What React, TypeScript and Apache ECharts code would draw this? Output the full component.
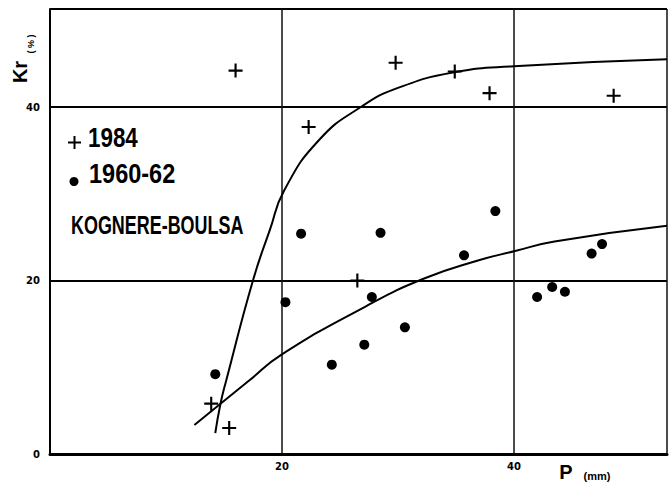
import React, { useEffect, useRef } from "react";
import * as echarts from "echarts";

// Axis ranges / ticks
const X_MIN = 0;
const X_MAX = 53.2;
const Y_MIN = 0;
const Y_MAX = 51.3;
const TICK_STEP = 20;
const xTickLabels = ["", "20", "40"];
const yTickLabels = ["0", "20", "40"];

// 1984 observations (+)
const obs1984: [number, number][] = [
  [13.9, 5.8],
  [15.45, 3.0],
  [16.0, 44.2],
  [22.3, 37.7],
  [26.5, 20.0],
  [29.8, 45.1],
  [34.9, 44.1],
  [37.9, 41.6],
  [48.6, 41.3],
];

// 1960-62 observations (dots)
const obs1960: [number, number][] = [
  [14.25, 9.2],
  [20.3, 17.5],
  [21.65, 25.4],
  [24.3, 10.3],
  [27.1, 12.6],
  [27.75, 18.1],
  [28.5, 25.5],
  [30.6, 14.6],
  [35.7, 22.9],
  [38.4, 28.0],
  [42.0, 18.1],
  [43.3, 19.25],
  [44.4, 18.7],
  [46.7, 23.1],
  [47.6, 24.2],
];

// Fitted curves
const curve1984: [number, number][] = [
  [14.25, 2.4],
  [14.7, 5.8],
  [15.2, 8.5],
  [17.5, 20.0],
  [18.95, 25.8],
  [20.2, 30.4],
  [23.2, 36.2],
  [26.8, 40.0],
  [30.0, 42.2],
  [34.85, 44.0],
  [40.0, 44.7],
  [53.2, 45.5],
];

const curve1960: [number, number][] = [
  [12.45, 3.35],
  [14.7, 5.8],
  [17.2, 8.5],
  [19.9, 11.4],
  [27.2, 17.0],
  [32.2, 20.2],
  [36.9, 22.3],
  [40.1, 23.4],
  [43.5, 24.5],
  [53.2, 26.3],
];

const PLUS = "path://M5.5,0h2v5.5h5.5v2h-5.5v5.5h-2v-5.5h-5.5v-2h5.5z";
const FAMILY = "'Liberation Sans', Arial, sans-serif";
const f = (s: number) => `bold ${s}px ${FAMILY}`;

export default function App() {
  const ref = useRef<HTMLDivElement>(null);
  useEffect(() => {
    if (!ref.current) return;
    const chart = echarts.init(ref.current, undefined, { renderer: "svg" });
    const tickIndex = (v: number) => Math.round(v / TICK_STEP);
    chart.setOption({
      animation: false,
      backgroundColor: "#ffffff",
      grid: { left: 50, right: 0, top: 9, bottom: 29, containLabel: false },
      xAxis: {
        type: "value",
        min: X_MIN,
        max: X_MAX,
        interval: TICK_STEP,
        axisLine: { show: true, lineStyle: { color: "#000", width: 3 } },
        axisTick: { show: false },
        axisLabel: {
          margin: 7,
          color: "#000",
          fontSize: 10,
          fontWeight: "bold",
          fontFamily: "'DejaVu Sans', sans-serif",
          formatter: (v: number) => xTickLabels[tickIndex(v)] ?? "",
        },
        splitLine: { show: true, lineStyle: { color: "#111", width: 1.5 } },
      },
      yAxis: {
        type: "value",
        min: Y_MIN,
        max: Y_MAX,
        interval: TICK_STEP,
        axisLine: { show: true, lineStyle: { color: "#000", width: 2 } },
        axisTick: { show: false },
        axisLabel: {
          margin: 10,
          color: "#000",
          fontSize: 10,
          fontWeight: "bold",
          fontFamily: "'DejaVu Sans', sans-serif",
          formatter: (v: number) => yTickLabels[tickIndex(v)] ?? "",
        },
        splitLine: { show: true, lineStyle: { color: "#000", width: 2 } },
      },
      series: [
        {
          name: "1984 curve",
          type: "line",
          data: curve1984,
          smooth: 0.5,
          showSymbol: false,
          lineStyle: { color: "#000", width: 2 },
          z: 2,
        },
        {
          name: "1960-62 curve",
          type: "line",
          data: curve1960,
          smooth: 0.5,
          showSymbol: false,
          lineStyle: { color: "#000", width: 2 },
          z: 2,
        },
        {
          name: "1984",
          type: "scatter",
          data: obs1984,
          symbol: PLUS,
          symbolSize: 14,
          itemStyle: { color: "#000", opacity: 1 },
          z: 3,
        },
        {
          name: "1960-62",
          type: "scatter",
          data: obs1960,
          symbol: "circle",
          symbolSize: 10,
          itemStyle: { color: "#000", opacity: 1 },
          z: 3,
        },
      ],
      graphic: [
        // legend glyphs
        { type: "rect", shape: { x: 68, y: 141.5, width: 13, height: 2 }, style: { fill: "#000" } },
        { type: "rect", shape: { x: 73.5, y: 136, width: 2, height: 13 }, style: { fill: "#000" } },
        { type: "circle", shape: { cx: 74, cy: 181.5, r: 4.5 }, style: { fill: "#000" } },
        {
          type: "text",
          x: 88,
          y: 137,
          scaleX: 0.8,
          style: { text: "1984", font: f(28), fill: "#000", align: "left", verticalAlign: "middle" },
        },
        {
          type: "text",
          x: 89,
          y: 173,
          scaleX: 0.84,
          style: { text: "1960-62", font: f(28), fill: "#000", align: "left", verticalAlign: "middle" },
        },
        {
          type: "text",
          x: 71,
          y: 225,
          scaleX: 0.69,
          style: { text: "KOGNERE-BOULSA", font: f(26), fill: "#000", align: "left", verticalAlign: "middle" },
        },
        // y axis title (rotated, reading upwards)
        {
          type: "text",
          x: 20,
          y: 72,
          rotation: Math.PI / 2,
          style: { text: "Kr", font: f(20), fill: "#000", align: "center", verticalAlign: "middle" },
        },
        {
          type: "text",
          x: 31,
          y: 44,
          rotation: Math.PI / 2,
          style: { text: "( % )", font: f(9), fill: "#000", align: "center", verticalAlign: "middle" },
        },
        // x axis title
        {
          type: "text",
          x: 566,
          y: 472,
          style: { text: "P", font: f(20), fill: "#000", align: "center", verticalAlign: "middle" },
        },
        {
          type: "text",
          x: 597,
          y: 476,
          style: { text: "(mm)", font: f(11), fill: "#000", align: "center", verticalAlign: "middle" },
        },
      ],
    });
    return () => chart.dispose();
  }, []);
  return (
    <div
      ref={ref}
      style={{ position: "absolute", left: 0, top: 0, width: 670, height: 483 }}
    />
  );
}
